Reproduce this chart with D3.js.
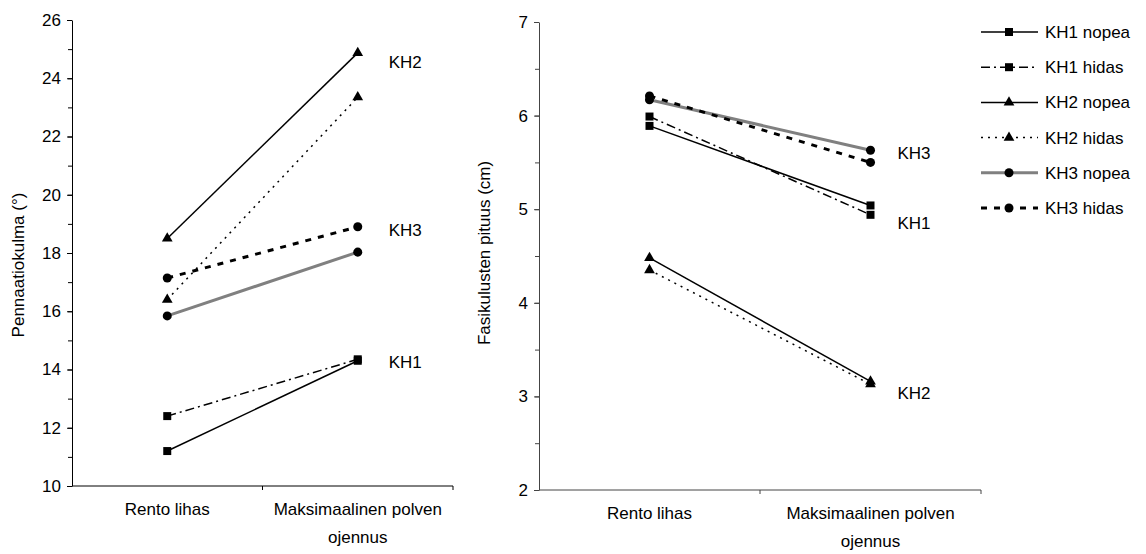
<!DOCTYPE html>
<html>

<head>
    <meta charset="UTF-8">
    <style>
        body { margin: 0; background: #fff; }
        svg text { font-family: "Liberation Sans", Arial, sans-serif; font-size: 17px; fill: #000; }
    </style>
</head>

<body>
    <svg id="chart" width="1146" height="554"></svg>
    <script src="https://d3js.org/d3.v7.min.js"></script>

    <script>

        // data
        let categories = ["Rento lihas", "Maksimaalinen polven ojennus"];
        let seriesNames = ["KH1 nopea", "KH1 hidas", "KH2 nopea", "KH2 hidas", "KH3 nopea", "KH3 hidas"];
        let angleValues = [[11.2, 14.3], [12.4, 14.35], [18.5, 24.87], [16.4, 23.35], [15.84, 18.03], [17.14, 18.9]];
        let lengthValues = [[5.89, 5.04], [5.99, 4.94], [4.48, 3.16], [4.35, 3.13], [6.17, 5.63], [6.21, 5.5]];
        let angleTicks = [10, 12, 14, 16, 18, 20, 22, 24, 26];
        let lengthTicks = [2, 3, 4, 5, 6, 7];
        let angleGroupLabels = [["KH2", 24.56], ["KH3", 18.8], ["KH1", 14.26]];
        let lengthGroupLabels = [["KH3", 5.6], ["KH1", 4.85], ["KH2", 3.04]];

        // how each series is drawn
        let styles = [
            { symbol: d3.symbolSquare, size: 64, stroke: "#000", width: 1.5, dash: null },
            { symbol: d3.symbolSquare, size: 64, stroke: "#000", width: 1.5, dash: "9,4,2,4" },
            { symbol: d3.symbolTriangle, size: 50, stroke: "#000", width: 1.5, dash: null },
            { symbol: d3.symbolTriangle, size: 50, stroke: "#000", width: 1.5, dash: "2,5" },
            { symbol: d3.symbolCircle, size: 64, stroke: "#808080", width: 3, dash: null },
            { symbol: d3.symbolCircle, size: 64, stroke: "#000", width: 3, dash: "6,7" }
        ];

        let svg = d3.select("#chart");

        function drawPanel(cfg) {
            let g = svg.append("g");

            let y = d3.scaleLinear().domain(cfg.domain).range([cfg.bottom, cfg.top]);
            let x = d3.scaleBand().domain(categories).range([cfg.left, cfg.right]).padding(0);
            let cx = c => x(c) + x.bandwidth() / 2;

            // y axis with minor ticks
            let minor = d3.range(cfg.domain[0], cfg.domain[1] + 1e-9, cfg.minorStep);
            g.append("g")
                .attr("transform", "translate(" + cfg.left + ",0)")
                .call(d3.axisLeft(y).tickValues(minor).tickSize(4).tickFormat(""))
                .call(a => a.select(".domain").remove())
                .selectAll("line").attr("stroke", cfg.axisColor);

            let ya = g.append("g")
                .attr("transform", "translate(" + cfg.left + ",0)")
                .call(d3.axisLeft(y).tickValues(cfg.ticks).tickSize(5).tickSizeOuter(0).tickPadding(6).tickFormat(d3.format("d")));
            ya.select(".domain").attr("stroke", cfg.axisColor);
            ya.selectAll("line").attr("stroke", cfg.axisColor);
            ya.selectAll("text").style("font-size", "17px").attr("fill", "#000");

            // x axis: line along the bottom, ticks between categories
            g.append("line")
                .attr("x1", cfg.left).attr("x2", cfg.right)
                .attr("y1", cfg.bottom).attr("y2", cfg.bottom)
                .attr("stroke", cfg.axisColor);
            let edges = categories.map(c => x(c)).concat([cfg.right]).slice(1);
            g.selectAll(".xt").data(edges).enter().append("line")
                .attr("x1", d => d).attr("x2", d => d)
                .attr("y1", cfg.bottom).attr("y2", cfg.bottom + 4)
                .attr("stroke", cfg.axisColor);

            // category labels, second word group wrapped
            categories.forEach(c => {
                let lines = c === categories[1] ? ["Maksimaalinen polven", "ojennus"] : [c];
                lines.forEach((t, i) => {
                    g.append("text")
                        .attr("x", cx(c)).attr("y", cfg.bottom + 29 + i * 28)
                        .attr("text-anchor", "middle")
                        .text(t);
                });
            });

            // y title
            g.append("text")
                .attr("transform", "translate(" + cfg.titleX + "," + cfg.titleY + ") rotate(-90)")
                .attr("text-anchor", "middle")
                .text(cfg.title);

            // series lines then markers
            let line = d3.line().x(d => cx(d[0])).y(d => y(d[1]));
            cfg.values.forEach((vals, i) => {
                let st = styles[i];
                let pts = categories.map((c, j) => [c, vals[j]]);
                g.append("path")
                    .attr("d", line(pts))
                    .attr("fill", "none")
                    .attr("stroke", st.stroke)
                    .attr("stroke-width", st.width)
                    .attr("stroke-dasharray", st.dash);
                g.selectAll(".m" + i).data(pts).enter().append("path")
                    .attr("d", d3.symbol().type(st.symbol).size(st.size))
                    .attr("transform", d => "translate(" + cx(d[0]) + "," + y(d[1]) + ")")
                    .attr("fill", "#000");
            });

            // group labels on the right
            cfg.groupLabels.forEach(l => {
                g.append("text")
                    .attr("x", cx(categories[1]) + cfg.labelOffset)
                    .attr("y", y(l[1]))
                    .attr("dy", "0.35em")
                    .text(l[0]);
            });
        }

        drawPanel({
            domain: [10, 26], ticks: angleTicks, minorStep: 1,
            left: 72, right: 453, top: 20, bottom: 486,
            values: angleValues, groupLabels: angleGroupLabels, labelOffset: 31,
            title: "Pennaatiokulma (°)", titleX: 24, titleY: 265, axisColor: "#000"
        });

        drawPanel({
            domain: [2, 7], ticks: lengthTicks, minorStep: 0.5,
            left: 539, right: 981, top: 22, bottom: 490,
            values: lengthValues, groupLabels: lengthGroupLabels, labelOffset: 27,
            title: "Fasikulusten pituus (cm)", titleX: 490, titleY: 253, axisColor: "#444"
        });

        // legend
        let legend = svg.append("g");
        seriesNames.forEach((name, i) => {
            let st = styles[i];
            let ly = 32 + i * 35.2;
            legend.append("line")
                .attr("x1", 981).attr("x2", 1038).attr("y1", ly).attr("y2", ly)
                .attr("stroke", st.stroke)
                .attr("stroke-width", st.width)
                .attr("stroke-dasharray", st.dash);
            legend.append("path")
                .attr("d", d3.symbol().type(st.symbol).size(st.size))
                .attr("transform", "translate(1009," + ly + ")")
                .attr("fill", "#000");
            legend.append("text")
                .attr("x", 1045).attr("y", ly).attr("dy", "0.35em")
                .text(name);
        });

    </script>

</body>

</html>
